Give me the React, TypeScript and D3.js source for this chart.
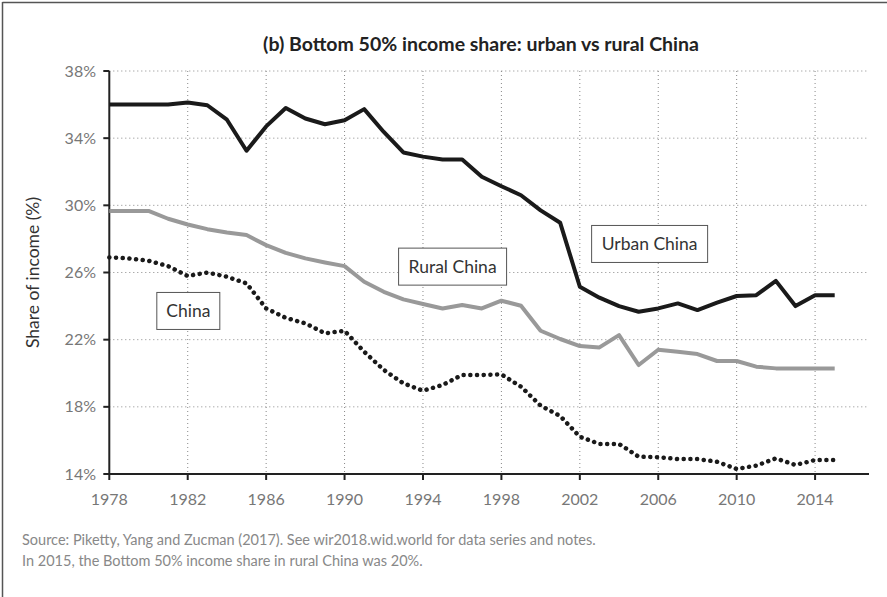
import * as d3 from 'd3';

const years = d3.range(1978, 2016);

const urban = [
  36.0, 36.0, 36.0, 36.0, 36.12, 35.96, 35.1, 33.25, 34.7, 35.8,
  35.17, 34.83, 35.07, 35.73, 34.37, 33.15, 32.9, 32.73, 32.73, 31.7,
  31.14, 30.6, 29.7, 28.96, 25.15, 24.5, 24.0, 23.66, 23.86, 24.16,
  23.76, 24.2, 24.6, 24.65, 25.5, 24.0, 24.65, 24.65,
];

const rural = [
  29.67, 29.67, 29.67, 29.2, 28.86, 28.58, 28.38, 28.23, 27.63, 27.17,
  26.84, 26.6, 26.38, 25.45, 24.85, 24.4, 24.12, 23.86, 24.06, 23.86,
  24.32, 24.02, 22.53, 22.04, 21.62, 21.54, 22.27, 20.49, 21.4, 21.28,
  21.14, 20.73, 20.73, 20.39, 20.29, 20.29, 20.29, 20.29,
];

const china = [
  26.9, 26.84, 26.7, 26.38, 25.79, 26.0, 25.75, 25.35, 23.86, 23.3,
  22.97, 22.38, 22.53, 21.28, 20.2, 19.4, 18.96, 19.3, 19.9, 19.9,
  19.93, 19.2, 18.07, 17.45, 16.22, 15.79, 15.79, 15.03, 15.0, 14.89,
  14.89, 14.73, 14.3, 14.5, 14.93, 14.54, 14.83, 14.83,
];

const yTicks = [14, 18, 22, 26, 30, 34, 38];
const xTicks = [1978, 1982, 1986, 1990, 1994, 1998, 2002, 2006, 2010, 2014];

// boxed series labels, centred at (year, share)
const labels = [
  { text: 'Urban China', x: 2005.56, y: 27.7, w: 116, h: 37 },
  { text: 'Rural China', x: 1995.51, y: 26.35, w: 108, h: 37 },
  { text: 'China', x: 1982.03, y: 23.71, w: 63, h: 37 },
];

const W = 887;
const H = 597;
const FONT = 'Lato, "Noto Sans", sans-serif';

export default function App() {
  const x = d3.scaleLinear().domain([1978, 2016.75]).range([109.3, 869]);
  const y = d3.scaleLinear().domain([14, 38]).range([474, 71]);

  const line = (vals: number[]) =>
    d3
      .line<number>()
      .x((_, i) => x(years[i]))
      .y((d) => y(d))(vals) as string;

  return (
    <svg
      width={W}
      height={H}
      style={{ position: 'absolute', left: 0, top: 0, background: '#fff' }}
      fontFamily={FONT}
    >
      {/* frame */}
      <line x1={2.5} y1={2.5} x2={W} y2={2.5} stroke="#555" strokeWidth={1.5} />
      <line x1={2.5} y1={2} x2={2.5} y2={H} stroke="#555" strokeWidth={1.5} />

      <text x={481} y={51} textAnchor="middle" fontSize={19.5} fontWeight="bold" fill="#222">
        (b) Bottom 50% income share: urban vs rural China
      </text>

      {/* grid */}
      {yTicks.slice(1).map((t) => (
        <line key={'gy' + t} x1={x(1978)} x2={869} y1={y(t)} y2={y(t)}
          stroke="#888" strokeWidth={1} strokeDasharray="1,3" />
      ))}
      {xTicks.slice(1).map((t) => (
        <line key={'gx' + t} x1={x(t)} x2={x(t)} y1={y(38)} y2={y(14)}
          stroke="#888" strokeWidth={1} strokeDasharray="1,3" />
      ))}

      {/* axes */}
      <line x1={x(1978)} x2={x(1978)} y1={y(38)} y2={y(14)} stroke="#222" strokeWidth={2} />
      <line x1={x(1978) - 1} x2={869} y1={y(14)} y2={y(14)} stroke="#222" strokeWidth={2} />
      {yTicks.map((t) => (
        <g key={'ty' + t}>
          <line x1={x(1978) - 6} x2={x(1978)} y1={y(t)} y2={y(t)} stroke="#222" strokeWidth={2} />
          <text x={96} y={y(t)} dy="0.35em" textAnchor="end" fontSize={16} fill="#777">
            {t}%
          </text>
        </g>
      ))}
      {xTicks.map((t) => (
        <g key={'tx' + t}>
          <line x1={x(t)} x2={x(t)} y1={y(14)} y2={y(14) + 6} stroke="#222" strokeWidth={2} />
          <text x={x(t)} y={505} textAnchor="middle" fontSize={16} fill="#777">
            {t}
          </text>
        </g>
      ))}

      <text transform={`translate(39,${y(26)}) rotate(-90)`} textAnchor="middle" fontSize={17.5} fill="#333">
        Share of income (%)
      </text>

      {/* series */}
      <path d={line(rural)} fill="none" stroke="#999" strokeWidth={4} strokeLinejoin="round" />
      <path d={line(urban)} fill="none" stroke="#1a1a1a" strokeWidth={4} strokeLinejoin="round" />
      <path d={line(china)} fill="none" stroke="#1a1a1a" strokeWidth={4.5}
        strokeDasharray="0.1,6.6" strokeLinecap="round" />

      {/* boxed labels */}
      {labels.map((l) => (
        <g key={l.text}>
          <rect x={x(l.x) - l.w / 2} y={y(l.y) - l.h / 2} width={l.w} height={l.h}
            fill="#fff" stroke="#555" strokeWidth={1} />
          <text x={x(l.x)} y={y(l.y)} dy="0.35em" textAnchor="middle" fontSize={17.5} fill="#333">
            {l.text}
          </text>
        </g>
      ))}

      <text x={22} y={545} fontSize={14.5} fill="#888">
        Source: Piketty, Yang and Zucman (2017). See wir2018.wid.world for data series and notes.
      </text>
      <text x={22} y={566} fontSize={14.5} fill="#888">
        In 2015, the Bottom 50% income share in rural China was 20%.
      </text>
    </svg>
  );
}
